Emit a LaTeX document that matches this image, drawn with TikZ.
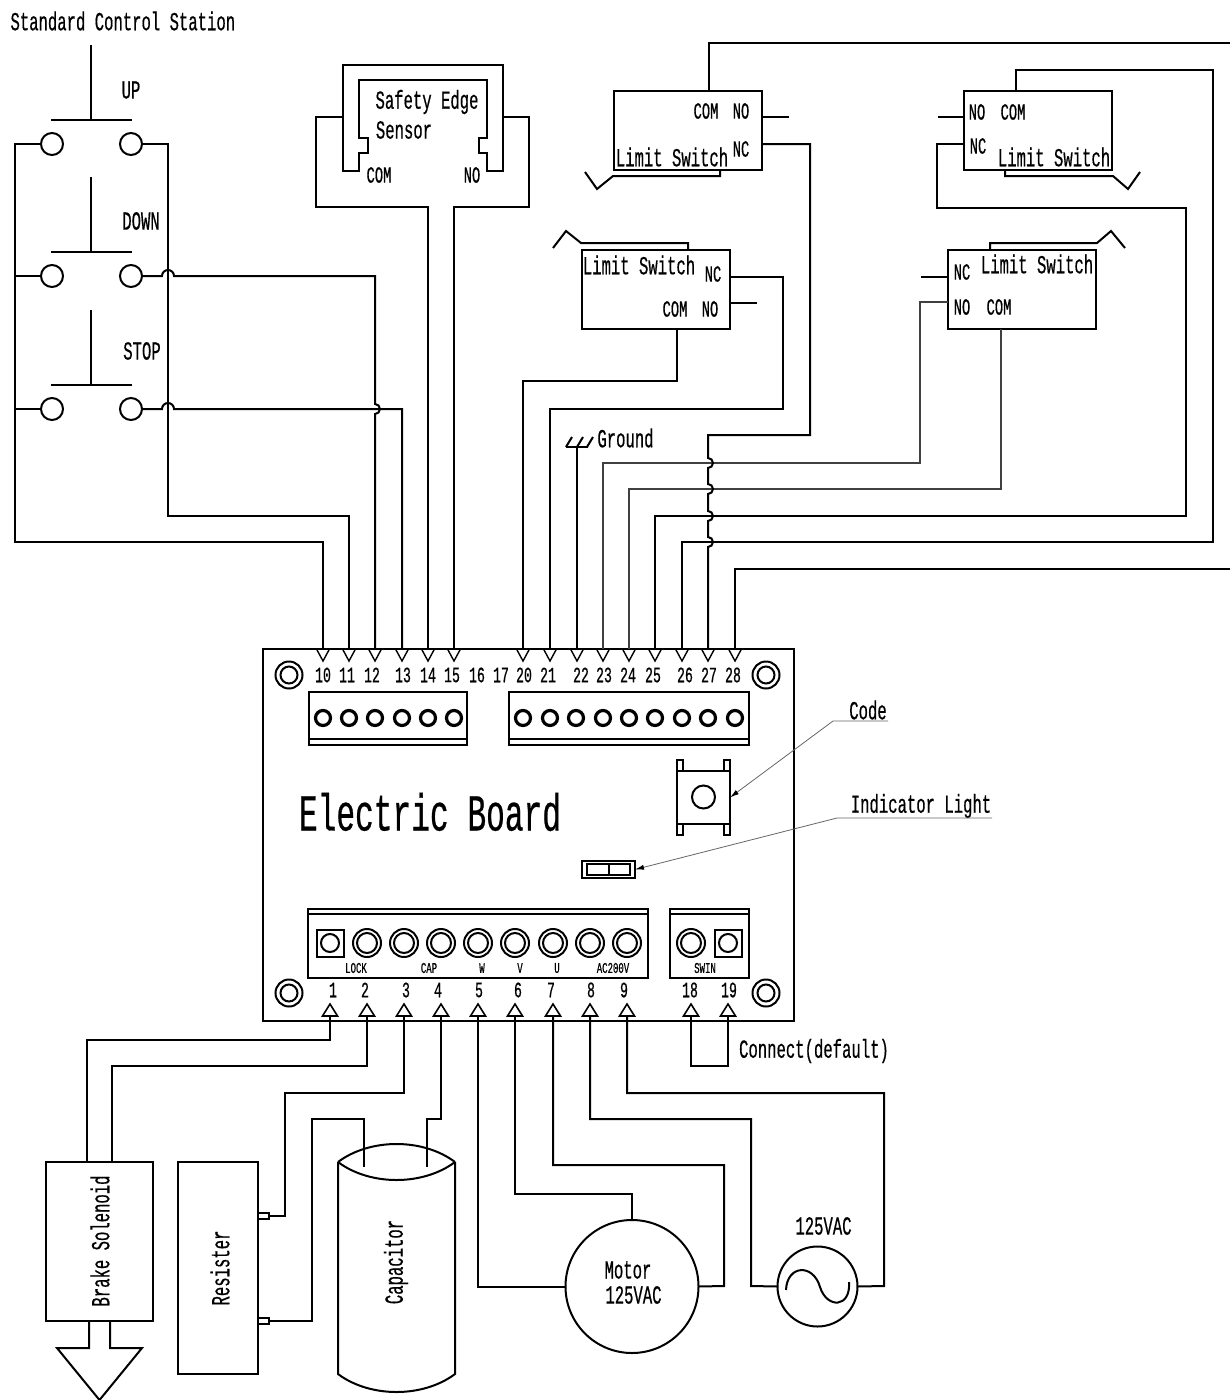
\documentclass[tikz,border=0pt]{standalone}
\usepackage{fontspec}
\usepackage{tikz}
\usetikzlibrary{arrows.meta}
\setmainfont[FakeStretch=0.6,FakeBold=0.5]{Liberation Mono}

\tikzset{
  wire/.style={line width=2pt},
  thinwire/.style={line width=1.3pt, black!75},
  leader/.style={line width=.8pt, black!60, -{Latex[length=9pt,width=5pt,black]}},
  box/.style={draw, line width=2pt, inner sep=0pt, outer sep=0pt},
  lbl/.style={inner sep=0pt, font=\fontsize{23}{25}\selectfont},
  lblbig/.style={inner sep=0pt, font=\fontsize{26}{30}\selectfont},
  lblnum/.style={inner sep=0pt, font=\fontsize{22}{24}\selectfont},
  lblsmall/.style={inner sep=0pt, font=\fontsize{15}{16}\selectfont},
  contact/.style={circle, draw, line width=2pt, minimum size=22pt, inner sep=0pt, outer sep=0pt},
  lsbox/.style={box, minimum width=148pt, minimum height=79pt},
}

\begin{document}
\begin{tikzpicture}[x=1pt, y=-1pt, line width=2pt]
  \useasboundingbox (0,0) rectangle (1230,1400);
  % control station
  \node[lblbig, anchor=west] (title) at (9.5,21) {Standard Control Station};
  \foreach \sw/\y in {swa/144, swb/276, swc/409}{
    \node[contact] (\sw-l) at (52,\y) {};
    \node[contact] (\sw-r) at (131,\y) {};
    \draw[wire] (91,\y-99) -- (91,\y-24);
    \draw[wire] (51,\y-24) -- (132,\y-24);
  }
  \node[lblbig] (up) at (131,90) {UP};
  \node[lblbig] (down) at (141,221) {DOWN};
  \node[lblbig] (stop) at (142,351) {STOP};

  % board
  \node[box, minimum width=531pt, minimum height=372pt] (board) at (528.5,835) {};
  \node[inner sep=0pt, font=\fontsize{52}{56}\selectfont] (boardname) at (430,812) {Electric Board};
  \foreach \sc/\x/\y in {sa/289/675, sb/766/675, sc/289/993, sd/766/993}{
    \node[contact, minimum size=27pt] (\sc) at (\x,\y) {};
    \node[contact, minimum size=17pt] (\sc-in) at (\x,\y) {};
  }

  % upper terminals
  \foreach \t/\x in {10/323, 11/349, 12/375, 13/402, 14/428, 15/454, 20/523, 21/550,
      22/577, 23/603, 24/629, 25/655, 26/682, 27/708, 28/735}{
    \coordinate (t\t) at (\x,649);
    \draw[line width=1.4pt] (t\t) ++(-6.5,0) -- ++(6.5,12) -- ++(6.5,-12);
  }
  \foreach \t/\x in {10/323, 11/347, 12/372, 13/403, 14/428, 15/452, 16/477, 17/501,
      20/524, 21/548, 22/581, 23/604, 24/628, 25/653, 26/685, 27/709, 28/733}{
    \node[lblnum] (n\t) at (\x,675) {\t};
  }
  % upper blocks
  \node[box, minimum width=158pt, minimum height=53pt] (blocka) at (388,718.5) {};
  \node[box, minimum width=240pt, minimum height=53pt] (blockb) at (629,718.5) {};
  \draw[wire] (309,739) -- (467,739);
  \draw[wire] (509,739) -- (749,739);
  \foreach \x in {323,349,375,402,428,454,523,550,576,603,629,655,682,708,735}{
    \draw[line width=3.2pt] (\x,718) circle (7.5);
  }

  % lower terminals
  \foreach \t/\x in {1/330, 2/367, 3/404, 4/441, 5/478, 6/515, 7/553, 8/590, 9/627, 18/691, 19/728}{
    \coordinate (b\t) at (\x,1016);
    \draw[line width=1.6pt] (\x-7.5,1016) -- (\x,1004) -- (\x+7.5,1016) -- cycle;
  }
  \foreach \t/\x in {1/333, 2/365, 3/406, 4/438, 5/479, 6/518, 7/551, 8/591, 9/624, 18/690, 19/729}{
    \node[lblnum] (m\t) at (\x,990) {\t};
  }
  % lower blocks
  \node[box, minimum width=340pt, minimum height=69pt] (blockc) at (478,943.5) {};
  \node[box, minimum width=79pt, minimum height=69pt] (blockd) at (709.5,943.5) {};
  \draw[wire] (308,914) -- (648,914);
  \draw[wire] (670,914) -- (749,914);
  \foreach \x in {367,404,441,478,515,553,590,627,691}{
    \node[contact, minimum size=28pt] (c\x) at (\x,943) {};
    \node[contact, minimum size=20pt] (d\x) at (\x,943) {};
  }
  \foreach \x in {330,728}{
    \node[box, minimum size=27pt] (q\x) at (\x,943) {};
    \node[contact, minimum size=18pt] (r\x) at (\x,943) {};
  }
  \foreach \n/\txt/\x in {la/LOCK/356, lb/CAP/429, lc/W/482, ld/V/520, le/U/557, lf/AC200V/613, lg/SWIN/705}{
    \node[lblsmall] (\n) at (\x,968) {\txt};
  }

  % code button and light
  \node[box, minimum width=53pt, minimum height=53pt] (code) at (703.5,797.5) {};
  \node[contact, minimum size=23pt] (codec) at (703.5,797) {};
  \foreach \x/\y in {677/760, 724/760, 677/824, 724/824}{
    \draw[line width=1.5pt] (\x,\y) rectangle (\x+6,\y+11);
  }
  \node[box, minimum width=53pt, minimum height=17pt] (light) at (608.5,869.5) {};
  \draw[line width=1.5pt] (587,864) rectangle (630,875);
  \draw[line width=1.5pt] (609,864) -- (609,875);
  \node[lblbig] (codelbl) at (868,710) {Code};
  \node[lblbig] (lightlbl) at (921,806) {Indicator Light};
  \draw[leader] (888,721) -- (833,721) -- (code.east);
  \draw[leader] (992,818) -- (837,818) -- (light.east);

  % safety edge
  \draw[wire] (343,171) -- (343,65) -- (503,65) -- (503,171) -- (487,171) -- (487,153) -- (479,153)
    -- (479,138) -- (487,138) -- (487,80) -- (359,80) -- (359,138) -- (368,138) -- (368,153)
    -- (359,153) -- (359,171) -- cycle;
  \coordinate (sfl) at (343,117);
  \coordinate (sfr) at (503,117);
  \node[lblbig] (safety) at (427,102) {Safety Edge};
  \node[lblbig] (sensor) at (404,130) {Sensor};
  \node[lbl] (sfcom) at (379,175) {COM};
  \node[lbl] (sfno) at (472,175) {NO};

  % limit switches
  \node[lsbox] (lsa) at (687.5,130.5) {};
  \node[lsbox] (lsb) at (1037.5,130.5) {};
  \node[lsbox] (lsc) at (655.5,289.5) {};
  \node[lsbox] (lsd) at (1021.5,289.5) {};
  \foreach \n/\x/\y in {la/672/157, lb/1054/157, lc/639/265, ld/1037/264}{
    \node[lblbig] (ls\n) at (\x,\y) {Limit Switch};
  }
  \node[lbl] (acom) at (706,111) {COM};
  \node[lbl] (ano) at (741,111) {NO};
  \node[lbl] (anc) at (741,149) {NC};
  \node[lbl] (bno) at (977,112) {NO};
  \node[lbl] (bcom) at (1013,112) {COM};
  \node[lbl] (bnc) at (978,146) {NC};
  \node[lbl] (cnc) at (713,274) {NC};
  \node[lbl] (ccom) at (675,309) {COM};
  \node[lbl] (cno) at (710,309) {NO};
  \node[lbl] (dnc) at (962,272) {NC};
  \node[lbl] (dno) at (962,307) {NO};
  \node[lbl] (dcom) at (999,307) {COM};
  % levers and open stubs
  \draw[wire] (720,170) -- (720,176) -- (613,176) -- (597,189) -- (585,172);
  \draw[wire] (1005,170) -- (1005,176) -- (1113,176) -- (1128,189) -- (1140,172);
  \draw[wire] (688,250) -- (688,243) -- (581,243) -- (566,231) -- (553,248);
  \draw[wire] (990,250) -- (990,243) -- (1097,243) -- (1111,231) -- (1125,248);
  \draw[wire] (lsa.east |- 0,117) -- ++(27,0);
  \draw[wire] (lsb.west |- 0,117) -- ++(-26,0);
  \draw[wire] (lsc.east |- 0,303) -- ++(27,0);
  \draw[wire] (lsd.west |- 0,277) -- ++(-27,0);

  % ground
  \draw[wire] (566,447) -- (588,447);
  \foreach \x in {566,577,587}{
    \draw[wire] (\x,447) -- ++(6,-10);
  }
  \node[lblbig] (gnd) at (625.5,438) {Ground};
  \draw[wire] (577,447) -- (t22);

  % wires to the upper terminals
  \draw[wire] (swa-l.west) -- (15,144) |- (323,542) -- (t10);
  \draw[wire] (swb-l.west) -- (15,276);
  \draw[wire] (swc-l.west) -- (15,409);
  \draw[wire] (swa-r.east) -- (168,144) |- (349,516) -- (t11);
  \draw[wire] (swb-r.east) -- (162,276) arc[start angle=180, end angle=360, radius=6] -- (375,276)
    -- (375,404) arc[start angle=-90, end angle=90, radius=5] -- (t12);
  \draw[wire] (swc-r.east) -- (162,409) arc[start angle=180, end angle=360, radius=6] -- (402,409) -- (t13);
  \draw[wire] (sfl) -- (316,117) |- (428,207) -- (t14);
  \draw[wire] (sfr) -- (529,117) |- (454,207) -- (t15);
  \draw[wire] (lsc.south -| 677,0) -- (677,381) -- (523,381) -- (t20);
  \draw[wire] (lsc.east |- 0,277) -- (783,277) |- (550,409) -- (t21);
  \draw[thinwire] (lsd.west |- 0,302) -- (920,302) |- (603,463) -- (t23);
  \draw[thinwire] (lsd.south -| 1001,0) |- (629,489) -- (t24);
  \draw[wire] (lsb.west |- 0,144) -- (937,144) |- (1186,208) |- (655,516) -- (t25);
  \draw[wire] (lsb.north -| 1016,0) -- (1016,70) -| (1213,542) -- (682,542) -- (t26);
  \draw[wire] (t27) -- (708,547) arc[start angle=90, end angle=-90, radius=5]
    -- (708,521) arc[start angle=90, end angle=-90, radius=5]
    -- (708,494) arc[start angle=90, end angle=-90, radius=5]
    -- (708,468) arc[start angle=90, end angle=-90, radius=5]
    -- (708,435) -| (810,144) -- (lsa.east |- 0,144);
  \draw[wire] (t28) -- (735,569) -- (1230,569);
  \draw[wire] (lsa.north -| 709,0) -- (709,43) -- (1230,43);

  % brake solenoid
  \node[box, minimum width=107pt, minimum height=159pt] (brake) at (99.5,1241.5) {};
  \draw[wire] (89,1321) -- (89,1348) -- (57,1348) -- (99.5,1400) -- (142,1348) -- (110,1348) -- (110,1321);
  \node[lblbig, rotate=90] (brakelbl) at (100,1241) {Brake Solenoid};
  \draw[wire] (b1) -- (330,1040) -| (87,1162);
  \draw[wire] (b2) -- (367,1066) -| (112,1162);

  % resister
  \node[box, minimum width=80pt, minimum height=212pt] (resister) at (218,1268) {};
  \node[lblbig, rotate=90] (reslbl) at (220,1268) {Resister};
  \draw[line width=1.5pt] (258,1213) -- (269,1213) -- (269,1219) -- (258,1219);
  \draw[line width=1.5pt] (258,1318) -- (269,1318) -- (269,1324) -- (258,1324);
  \coordinate (resa) at (269,1216);
  \coordinate (resb) at (269,1321);

  % capacitor
  \draw[wire] (338,1162) .. controls (370,1138) and (423,1138) .. (455,1162);
  \draw[wire] (338,1162) .. controls (370,1186) and (423,1186) .. (455,1162);
  \draw[wire] (338,1162) -- (338,1374) .. controls (370,1398) and (423,1398) .. (455,1374) -- (455,1162);
  \coordinate (capa) at (364,1167);
  \coordinate (capb) at (427,1167);
  \node[lblbig, rotate=90] (caplbl) at (396,1262) {Capacitor};
  \draw[wire] (b3) -- (404,1093) -- (285,1093) |- (resa);
  \draw[wire] (resb) -- (312,1321) |- (364,1119) -- (capa);
  \draw[wire] (b4) -- (441,1119) -- (427,1119) -- (capb);

  % motor
  \node[contact, minimum size=133pt] (motor) at (632,1286.5) {};
  \node[lblbig] (motorlbl) at (628,1270) {Motor};
  \node[lblbig] (motorvolt) at (633.5,1295) {125VAC};
  \draw[wire] (b5) |- (motor.west);
  \draw[wire] (b6) -- (515,1194) -| (motor.north);
  \draw[wire] (b7) -- (553,1165) -| (724,1286) -- (motor.east);

  % source
  \node[contact, minimum size=80pt] (source) at (817.5,1286.5) {};
  \node[lblbig] (sourcelbl) at (823.5,1226) {125VAC};
  \draw[wire] (786,1290) .. controls (787,1265) and (813,1263) .. (820,1287)
    .. controls (827,1309) and (851,1308) .. (849,1282);
  \draw[wire] (b8) -- (590,1119) -| (751,1286) -- (source.west);
  \draw[wire] (b9) -- (627,1093) -| (884,1286) -- (source.east);

  % jumper
  \draw[wire] (b18) |- (b19 |- 0,1066) -- (b19);
  \node[lblbig] (jumperlbl) at (814,1051) {Connect(default)};
\end{tikzpicture}
\end{document}
